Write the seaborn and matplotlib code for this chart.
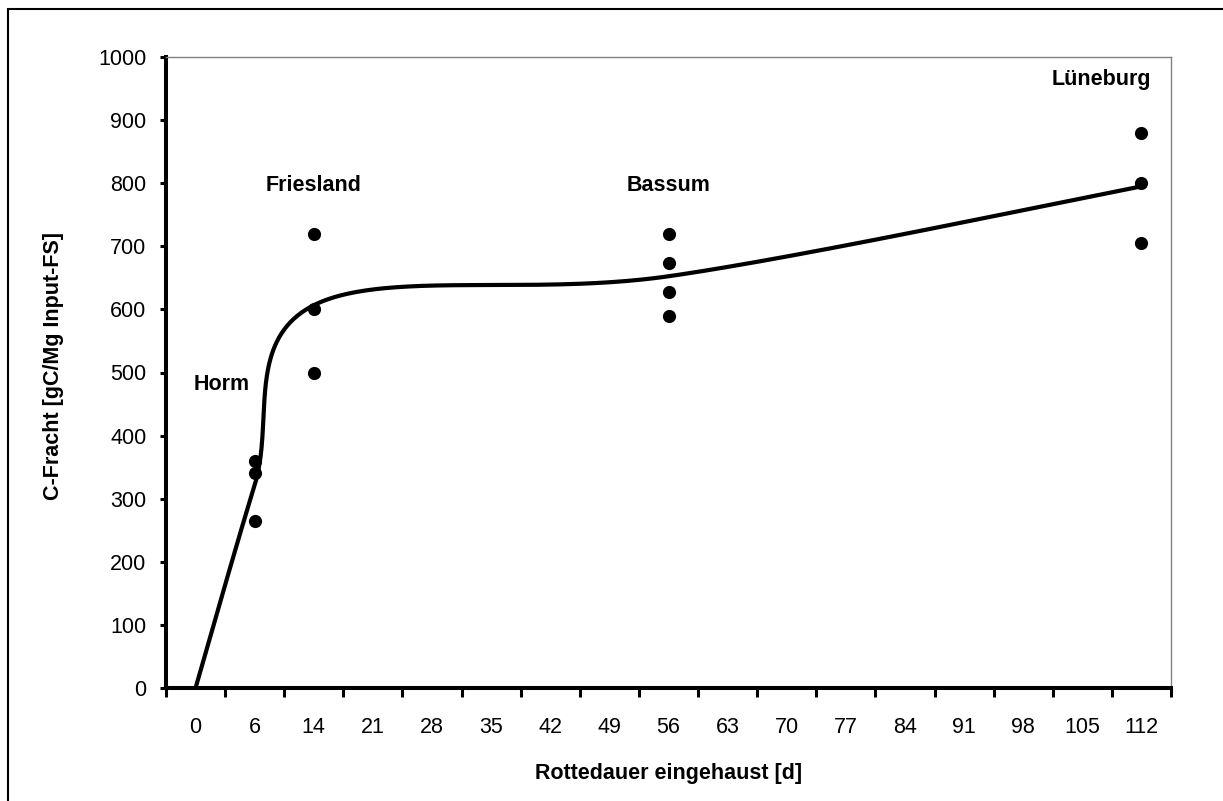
import numpy as np
import pandas as pd
import matplotlib
matplotlib.use("Agg")
import matplotlib.pyplot as plt
import seaborn as sns

# category axis (days) and measured C loads per site
days = [0, 6, 14, 21, 28, 35, 42, 49, 56, 63, 70, 77, 84, 91, 98, 105, 112]
sites = ["Horm", "Friesland", "Bassum", "Lüneburg"]
site_days = [6, 14, 56, 112]
horm = [360, 340, 265]
friesland = [720, 600, 500]
bassum = [720, 673, 627, 590]
lueneburg = [880, 800, 705]
start_day = 0
start_value = 0

sns.set_style("white")
plt.rcParams["font.family"] = ["Liberation Sans", "DejaVu Sans"]
plt.rcParams["text.color"] = "black"
plt.rcParams["axes.labelcolor"] = "black"
plt.rcParams["xtick.color"] = "black"
plt.rcParams["ytick.color"] = "black"

rows = []
for site, d, vals in zip(sites, site_days, [horm, friesland, bassum, lueneburg]):
    for v in vals:
        rows.append({"site": site, "day": d, "pos": days.index(d), "value": v})
df = pd.DataFrame(rows)

# line through the site means (plus origin), smoothed like excel does
means = df.groupby("pos", sort=True)["value"].mean()
lx = np.r_[days.index(start_day), means.index.values].astype(float)
ly = np.r_[start_value, means.values].astype(float)


def excel_smooth(xs, ys, n=80):
    P = np.column_stack([xs, ys])
    out = [P[0]]
    t = np.linspace(0, 1, n)[1:, None]
    for i in range(len(P) - 1):
        p0 = P[max(i - 1, 0)]
        p1 = P[i]
        p2 = P[i + 1]
        p3 = P[min(i + 2, len(P) - 1)]
        c1 = p1 + (p2 - p0) / 6
        c2 = p2 - (p3 - p1) / 6
        seg = (1 - t) ** 3 * p1 + 3 * (1 - t) ** 2 * t * c1 + 3 * (1 - t) * t ** 2 * c2 + t ** 3 * p2
        out.extend(seg)
    return np.array(out)


curve = excel_smooth(lx, ly)

fig = plt.figure(figsize=(12.23, 8.01), dpi=100)
ax = fig.add_axes([166 / 1223, 1 - 688 / 801, 1005 / 1223, 631 / 801])

sns.lineplot(x=curve[:, 0], y=curve[:, 1], sort=False, estimator=None,
             color="black", lw=3, ax=ax)
sns.scatterplot(data=df, x="pos", y="value", color="black", s=90,
                linewidth=0, ax=ax, zorder=3)

# site labels
label_pos = {"Horm": (0.44, 472), "Friesland": (2.0, 787),
             "Bassum": (8.0, 787), "Lüneburg": (15.33, 955)}
for s in sites:
    x, y = label_pos[s]
    ax.text(x, y, s, ha="center", va="baseline", fontsize=15.5,
            fontweight="bold", color="black")

ax.set_xlim(-0.5, len(days) - 0.5)
ax.set_ylim(0, 1000)
ax.set_yticks(np.arange(0, 1001, 100))
ax.set_xticks(np.arange(-0.5, len(days), 1))
ax.set_xticklabels([])
ax.set_xticks(np.arange(len(days)), minor=True)
ax.set_xticklabels([str(d) for d in days], minor=True)

ax.tick_params(axis="x", which="major", direction="out", length=6.5, width=2.2,
               color="black", bottom=True)
ax.tick_params(axis="x", which="minor", length=0, pad=21, labelsize=15.5,
               labelcolor="black")
ax.tick_params(axis="y", direction="out", length=4, width=2.2, color="black",
               left=True, pad=10, labelsize=15.5, labelcolor="black")

for side in ["left", "bottom"]:
    ax.spines[side].set_color("black")
    ax.spines[side].set_linewidth(2.9)
for side in ["top", "right"]:
    ax.spines[side].set_color("#808080")
    ax.spines[side].set_linewidth(1)

ax.set_xlabel("Rottedauer eingehaust [d]", fontsize=15.5, fontweight="bold")
ax.set_ylabel("C-Fracht [gC/Mg Input-FS]", fontsize=15.5, fontweight="bold")
ax.xaxis.set_label_coords(0.5, -0.119)
ax.yaxis.set_label_coords(-0.101, 0.51)

# chart border
fig.add_artist(plt.Rectangle((7.7 / 1223, -0.1), 1.2, 1 - 9 / 801 + 0.1,
                             transform=fig.transFigure, fill=False,
                             ec="black", lw=1.5))

fig.savefig("out.png", dpi=100)
